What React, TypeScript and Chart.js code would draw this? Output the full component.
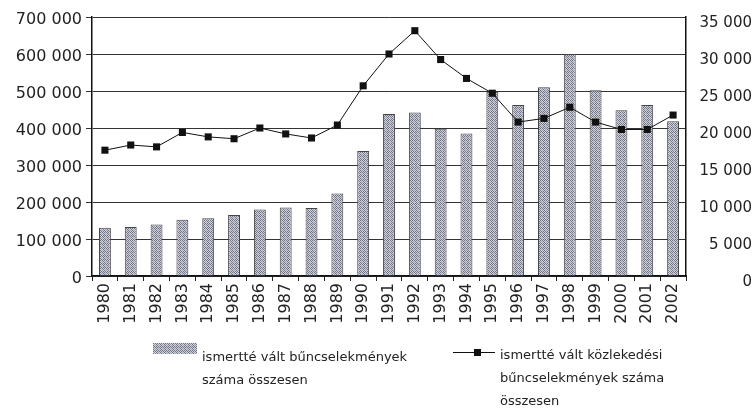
import React, { useEffect, useRef } from "react";
import { Chart, registerables } from "chart.js";

Chart.register(...registerables);

const years = [
  "1980", "1981", "1982", "1983", "1984", "1985", "1986", "1987", "1988", "1989", "1990", "1991",
  "1992", "1993", "1994", "1995", "1996", "1997", "1998", "1999", "2000", "2001", "2002",
];

const totalCrimes = [
  130500, 132500, 139000, 152000, 156000, 165000, 180000, 185000, 184000, 223000, 338000, 438000,
  442000, 398000, 385000, 498000, 462000, 510000, 600000, 502000, 448000, 462000, 418000,
];

const trafficCrimes = [
  17000, 17700, 17450, 19400, 18800, 18550, 20000, 19200, 18650, 20400, 25700, 30000,
  33150, 29250, 26700, 24700, 20800, 21300, 22800, 20800, 19800, 19800, 21750,
];

const barLegendLines = ["ismertté vált bűncselekmények", "száma összesen"];
const lineLegendLines = ["ismertté vált közlekedési", "bűncselekmények száma", "összesen"];

const FONT = "'DejaVu Sans', sans-serif";
const TEXT = "#222";

function fmt(v: number): string {
  return String(v).replace(/\B(?=(\d{3})+(?!\d))/g, " ");
}

function makeTile(): HTMLCanvasElement {
  const c = document.createElement("canvas");
  c.width = 4;
  c.height = 4;
  const g = c.getContext("2d");
  if (!g) return c;
  const D = "#6f7282";
  const M = "#9ea1b0";
  const L = "#cfd1dc";
  const grid = [
    [D, L, M, L],
    [L, D, L, M],
    [M, L, D, L],
    [L, M, L, D],
  ];
  const grid2 = [
    [D, L, D, L],
    [L, M, L, D],
    [D, L, M, L],
    [L, D, L, M],
  ];
  for (let y = 0; y < 4; y++) {
    for (let x = 0; x < 4; x++) {
      g.fillStyle = (x + y) % 3 === 0 ? grid[y][x] : grid2[y][x];
      g.fillRect(x, y, 1, 1);
    }
  }
  return c;
}

export default function App() {
  const canvasRef = useRef<HTMLCanvasElement | null>(null);
  const swatchRef = useRef<HTMLCanvasElement | null>(null);

  useEffect(() => {
    const canvas = canvasRef.current;
    if (!canvas) return;
    const ctx = canvas.getContext("2d");
    if (!ctx) return;
    const tile = makeTile();
    const pattern = ctx.createPattern(tile, "repeat") || "#a0a2ae";

    const sw = swatchRef.current;
    if (sw) {
      const sctx = sw.getContext("2d");
      if (sctx) {
        const sp = sctx.createPattern(tile, "repeat");
        sctx.fillStyle = sp || "#a0a2ae";
        sctx.fillRect(0, 0, sw.width, sw.height);
      }
    }

    const chart = new Chart(ctx, {
      type: "bar",
      data: {
        labels: years,
        datasets: [
          {
            type: "line",
            label: "ismertté vált közlekedési bűncselekmények száma összesen",
            data: trafficCrimes,
            yAxisID: "y1",
            borderColor: "#111",
            borderWidth: 1,
            backgroundColor: "#111",
            pointStyle: "rect",
            pointRadius: 5,
            pointBorderWidth: 0,
            pointBackgroundColor: "#111",
            tension: 0,
            order: 1,
          } as any,
          {
            type: "bar",
            label: "ismertté vált bűncselekmények száma összesen",
            data: totalCrimes,
            yAxisID: "y",
            backgroundColor: pattern as any,
            borderColor: "#444",
            borderWidth: { left: 1, right: 1, top: 1, bottom: 0 },
            borderSkipped: "start",
            barPercentage: 0.46,
            categoryPercentage: 1,
            order: 2,
          } as any,
        ],
      },
      options: {
        responsive: false,
        animation: false,
        devicePixelRatio: 1,
        layout: { padding: { top: 12, left: 0, right: 4, bottom: 81 } },
        plugins: {
          legend: { display: false },
          tooltip: { enabled: false },
        },
        scales: {
          x: {
            offset: true,
            grid: {
              display: true,
              drawOnChartArea: false,
              drawTicks: true,
              tickLength: 5,
              color: "#222",
              offset: true,
            },
            border: { display: true, color: "#111", width: 1.5 },
            ticks: {
              minRotation: 90,
              maxRotation: 90,
              autoSkip: false,
              padding: 2,
              color: TEXT,
              font: { family: FONT, size: 16 },
            },
            afterFit: (s: any) => {
              s.height = 56;
            },
          },
          y: {
            position: "left",
            min: 0,
            max: 700000,
            grid: { color: "#333", lineWidth: 1, tickLength: 6 },
            border: { display: true, color: "#111", width: 1.5 },
            ticks: {
              stepSize: 100000,
              padding: 4,
              labelOffset: 3,
              color: TEXT,
              font: { family: FONT, size: 16 },
              callback: (v: any) => fmt(Number(v)),
            },
            afterFit: (s: any) => {
              s.width = 92;
            },
          },
          y1: {
            position: "right",
            min: 0,
            max: 35000,
            grid: { drawOnChartArea: false, drawTicks: false },
            border: { display: true, color: "#111", width: 1.5 },
            ticks: {
              stepSize: 5000,
              padding: 8,
              labelOffset: 6,
              crossAlign: "far",
              color: TEXT,
              font: { family: FONT, size: 15 },
              callback: (v: any) => fmt(Number(v)),
            },
            afterFit: (s: any) => {
              s.width = 66;
            },
          },
        },
      } as any,
    });

    return () => {
      chart.destroy();
    };
  }, []);

  const legendText: React.CSSProperties = {
    position: "absolute",
    fontFamily: FONT,
    fontSize: 13,
    color: TEXT,
    lineHeight: "23px",
    whiteSpace: "nowrap",
  };

  return (
    <div style={{ position: "absolute", left: 0, top: 0, width: 756, height: 413, background: "#fff" }}>
      <canvas ref={canvasRef} width={756} height={413} style={{ display: "block" }} />
      <canvas
        ref={swatchRef}
        width={44}
        height={11}
        style={{ position: "absolute", left: 153, top: 343, width: 44, height: 11, display: "block" }}
      />
      <div style={{ ...legendText, left: 202, top: 345 }}>
        {barLegendLines.map((t, i) => (
          <div key={i}>{t}</div>
        ))}
      </div>
      <div style={{ position: "absolute", left: 453, top: 352, width: 42, height: 1, background: "#111" }} />
      <div style={{ position: "absolute", left: 474, top: 349, width: 7, height: 7, background: "#111" }} />
      <div style={{ ...legendText, left: 500, top: 343 }}>
        {lineLegendLines.map((t, i) => (
          <div key={i}>{t}</div>
        ))}
      </div>
    </div>
  );
}
